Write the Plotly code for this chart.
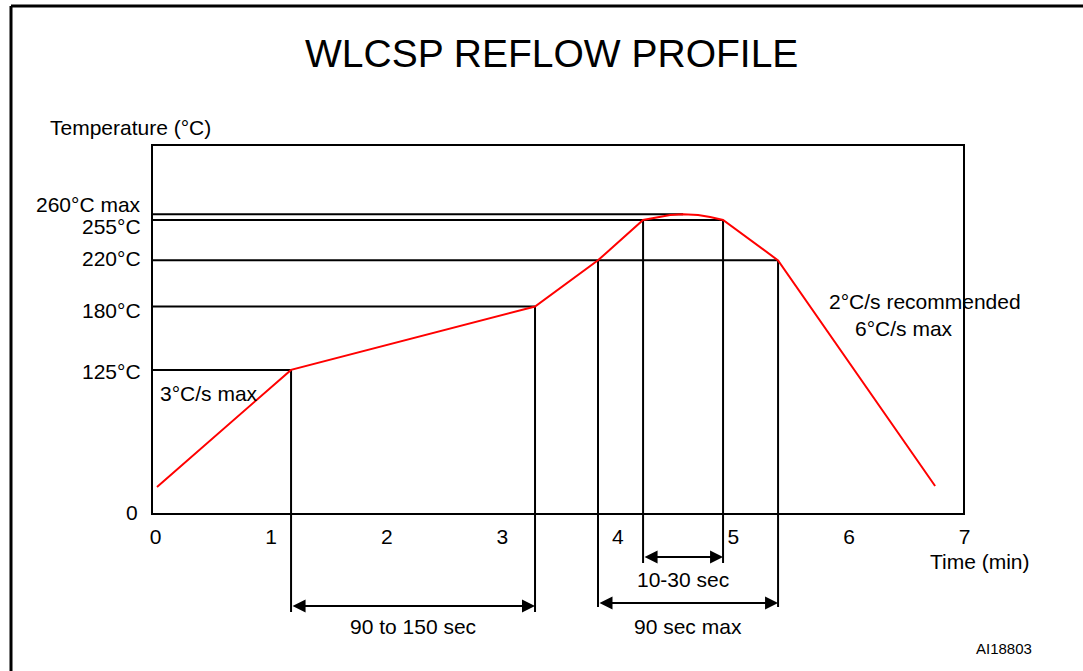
import plotly.graph_objects as go

# ---- data (time in minutes, temperature in °C) ----
curve_time = [0.012, 1.172, 3.283, 3.828, 4.218, 4.339, 4.452, 4.564, 4.694, 4.798, 4.910, 5.386, 6.745]
curve_temp = [23.4, 125, 180, 220, 255, 257.5, 259.3, 260, 259.3, 257.5, 255, 220, 24.3]

level_temps = [260, 255, 220, 180, 125]
level_ends = [4.564, 4.910, 5.386, 3.283, 1.172]
level_labels = ["260°C max", "255°C", "220°C", "180°C", "125°C"]
level_label_shift = [10, -7, 2, -4, -2]

marker_times = [1.172, 3.283, 3.828, 4.218, 4.910, 5.386]
marker_tops = [125, 180, 220, 255, 255, 220]
marker_bottoms = [-85.0, -85.0, -80.7, -42.5, -42.5, -80.7]

span_starts = [1.172, 4.218, 3.828]
span_ends = [3.283, 4.910, 5.386]
span_levels = [-79.8, -37.3, -77.2]
span_labels = ["90 to 150 sec", "10-30 sec", "90 sec max"]
span_label_levels = [-98.0, -57.2, -98.0]

x_ticks = [0, 1, 2, 3, 4, 5, 6, 7]

FONT = "Liberation Sans, Arial, Helvetica, sans-serif"
FS = 21
W, H = 1083, 671
PX_PER_MIN, X0_PX = 115.57, 155.6
PX_PER_DEG, Y0_PX = 1.153, 514

x_range = [(0 - X0_PX) / PX_PER_MIN, (W - X0_PX) / PX_PER_MIN]
y_range = [(Y0_PX - H) / PX_PER_DEG, (Y0_PX - 0) / PX_PER_DEG]
frame_left = (152 - X0_PX) / PX_PER_MIN
frame_right = (964 - X0_PX) / PX_PER_MIN
frame_top = (Y0_PX - 145) / PX_PER_DEG

fig = go.Figure()

# horizontal reference levels
hx, hy = [], []
for T, te in zip(level_temps, level_ends):
    hx += [frame_left, te, None]
    hy += [T, T, None]
fig.add_trace(go.Scatter(x=hx, y=hy, mode="lines", line=dict(color="black", width=2),
                         hoverinfo="skip", showlegend=False))

# vertical markers
vx, vy = [], []
for t, top, bot in zip(marker_times, marker_tops, marker_bottoms):
    vx += [t, t, None]
    vy += [top, bot, None]
fig.add_trace(go.Scatter(x=vx, y=vy, mode="lines", line=dict(color="black", width=2),
                         hoverinfo="skip", showlegend=False))

# profile curve
fig.add_trace(go.Scatter(x=curve_time, y=curve_temp, mode="lines",
                         line=dict(color="#ff0000", width=2),
                         showlegend=False))

shapes = [
    dict(type="rect", xref="x", yref="y", x0=frame_left, x1=frame_right, y0=0, y1=frame_top,
         line=dict(color="black", width=2), layer="above"),
    dict(type="line", xref="paper", yref="paper", x0=11 / W, x1=1.01, y0=1 - 6 / H, y1=1 - 6 / H,
         line=dict(color="black", width=3)),
    dict(type="line", xref="paper", yref="paper", x0=11 / W, x1=11 / W, y0=-0.01, y1=1 - 6 / H,
         line=dict(color="black", width=3)),
]

annotations = []
# double-headed span arrows and labels
for s, e, lv, lab, ll in zip(span_starts, span_ends, span_levels, span_labels, span_label_levels):
    annotations.append(dict(x=e, y=lv, ax=s, ay=lv, xref="x", yref="y", axref="x", ayref="y",
                            text="", showarrow=True, arrowside="end+start", arrowhead=2,
                            arrowsize=1.3, arrowwidth=2, arrowcolor="black",
                            standoff=0, startstandoff=0))
    annotations.append(dict(x=(s + e) / 2, y=ll, xref="x", yref="y", text=lab, showarrow=False,
                            font=dict(size=FS, color="black", family=FONT)))

# y level labels
for T, lab, sh in zip(level_temps, level_labels, level_label_shift):
    annotations.append(dict(x=frame_left, y=T, xref="x", yref="y", text=lab, showarrow=False,
                            xanchor="right", xshift=-9, yshift=sh,
                            font=dict(size=FS, color="black", family=FONT)))
annotations.append(dict(x=frame_left, y=0, xref="x", yref="y", text="0", showarrow=False,
                        xanchor="right", xshift=-12, yshift=2,
                        font=dict(size=FS, color="black", family=FONT)))

annotations += [
    dict(x=0.5088, y=1 - 53 / H, xref="paper", yref="paper", text="WLCSP REFLOW PROFILE",
         showarrow=False, xanchor="center", yanchor="middle",
         font=dict(size=39, color="black", family=FONT)),
    dict(x=(48 - X0_PX) / PX_PER_MIN, y=(Y0_PX - 127) / PX_PER_DEG, xref="x", yref="y",
         text="Temperature (°C)", showarrow=False, xanchor="left",
         font=dict(size=FS, color="black", family=FONT)),
    dict(x=(158 - X0_PX) / PX_PER_MIN, y=(Y0_PX - 393) / PX_PER_DEG, xref="x", yref="y",
         text="3°C/s max", showarrow=False, xanchor="left",
         font=dict(size=FS, color="black", family=FONT)),
    dict(x=(925 - X0_PX) / PX_PER_MIN, y=(Y0_PX - 301) / PX_PER_DEG, xref="x", yref="y",
         text="2°C/s recommended", showarrow=False,
         font=dict(size=FS, color="black", family=FONT)),
    dict(x=(904 - X0_PX) / PX_PER_MIN, y=(Y0_PX - 328) / PX_PER_DEG, xref="x", yref="y",
         text="6°C/s max", showarrow=False,
         font=dict(size=FS, color="black", family=FONT)),
    dict(x=(980 - X0_PX) / PX_PER_MIN, y=(Y0_PX - 561) / PX_PER_DEG, xref="x", yref="y",
         text="Time (min)", showarrow=False,
         font=dict(size=FS, color="black", family=FONT)),
    dict(x=(1004 - X0_PX) / PX_PER_MIN, y=(Y0_PX - 648) / PX_PER_DEG, xref="x", yref="y",
         text="AI18803", showarrow=False,
         font=dict(size=15, color="black", family=FONT)),
]

fig.update_layout(
    width=W, height=H,
    margin=dict(l=0, r=0, t=0, b=0),
    paper_bgcolor="white", plot_bgcolor="white",
    showlegend=False,
    shapes=shapes,
    annotations=annotations,
    font=dict(family=FONT, color="black", size=FS),
    xaxis=dict(range=x_range, showgrid=False, zeroline=False, showline=False,
               tickvals=x_ticks, ticktext=[str(v) for v in x_ticks],
               ticks="outside", ticklen=4, tickcolor="rgba(0,0,0,0)",
               tickfont=dict(size=FS, color="black", family=FONT),
               anchor="free", position=1 - Y0_PX / H, fixedrange=True),
    yaxis=dict(range=y_range, visible=False, showgrid=False, zeroline=False, fixedrange=True),
)

fig.write_html("out.html", config={"displayModeBar": False},
               post_script="document.body.style.margin='0';document.body.style.overflow='hidden';")
